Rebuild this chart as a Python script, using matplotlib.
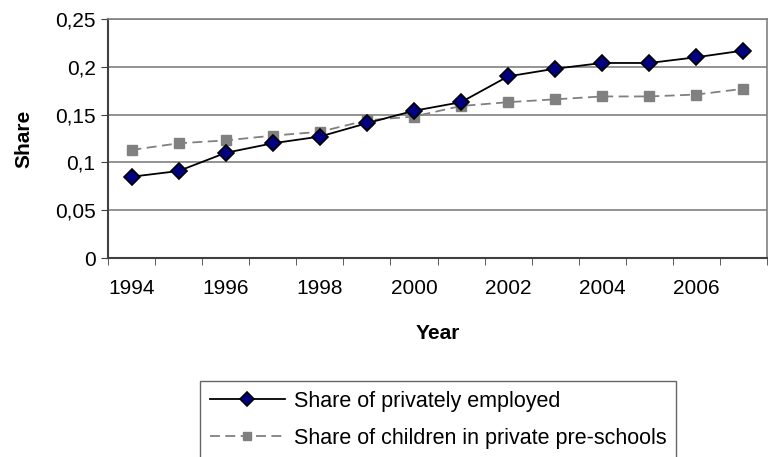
import matplotlib
matplotlib.use("Agg")
import matplotlib.pyplot as plt
import numpy as np

plt.rcParams['font.family'] = ['Liberation Sans', 'DejaVu Sans']

# Данные
years = [1994, 1995, 1996, 1997, 1998, 1999, 2000, 2001, 2002, 2003, 2004, 2005, 2006, 2007]
private_employed = [0.085, 0.091, 0.110, 0.120, 0.127, 0.141, 0.154, 0.163, 0.190, 0.198,
                    0.204, 0.204, 0.210, 0.217]
private_preschool = [0.113, 0.120, 0.123, 0.128, 0.132, 0.144, 0.148, 0.159, 0.163, 0.166,
                     0.169, 0.169, 0.171, 0.177]
tick_years = [1994, 1996, 1998, 2000, 2002, 2004, 2006]
y_ticks = [0, 0.05, 0.1, 0.15, 0.2, 0.25]
y_labels = ['0', '0,05', '0,1', '0,15', '0,2', '0,25']

fs = 15

fig = plt.figure(figsize=(7.68, 4.57), dpi=100)
ax = fig.add_axes([108 / 768, 1 - 258 / 457, 659 / 768, 239 / 457])

ax.plot(years, private_employed, color='black', lw=1.3, marker='D', markersize=8.5,
        markerfacecolor='#000080', markeredgecolor='black', markeredgewidth=1.2,
        label='Share of privately employed', zorder=3)
ax.plot(years, private_preschool, color='#808080', lw=1.3, dashes=(5.5, 3), marker='s',
        markersize=7.5, markerfacecolor='#808080', markeredgecolor='#808080',
        label='Share of children in private pre-schools', zorder=2)

ax.set_xlim(1993.5, 2007.5)
ax.set_ylim(0, 0.25)
ax.set_yticks(y_ticks)
ax.set_yticklabels(y_labels)
ax.set_xticks(tick_years)
ax.set_xticks(np.arange(1993.5, 2008, 1), minor=True)
ax.tick_params(axis='x', which='major', length=0, pad=15, labelsize=fs)
ax.tick_params(axis='x', which='minor', length=5, color='#404040', direction='out')
ax.tick_params(axis='y', length=5, color='#404040', labelsize=fs, pad=4)

ax.grid(axis='y', color='#808080', lw=1.2)
ax.set_axisbelow(True)
for s in ['top', 'right']:
    ax.spines[s].set_color('#808080')
    ax.spines[s].set_linewidth(1.2)
for s in ['left', 'bottom']:
    ax.spines[s].set_color('#404040')
    ax.spines[s].set_linewidth(1.5)

ax.set_ylabel('Share', fontsize=fs, fontweight='bold', labelpad=15)
ax.set_xlabel('Year', fontsize=fs, fontweight='bold', labelpad=19)

leg = fig.legend(loc='upper left', bbox_to_anchor=(200 / 768, 1 - 381 / 457),
                 fontsize=15.5, frameon=True, fancybox=False, edgecolor='#404040',
                 handlelength=3.5, borderpad=0.45, labelspacing=0.75, handletextpad=0.4,
                 borderaxespad=0, markerscale=0.85)
leg.get_frame().set_linewidth(1.0)

fig.savefig('out.png', dpi=100)
